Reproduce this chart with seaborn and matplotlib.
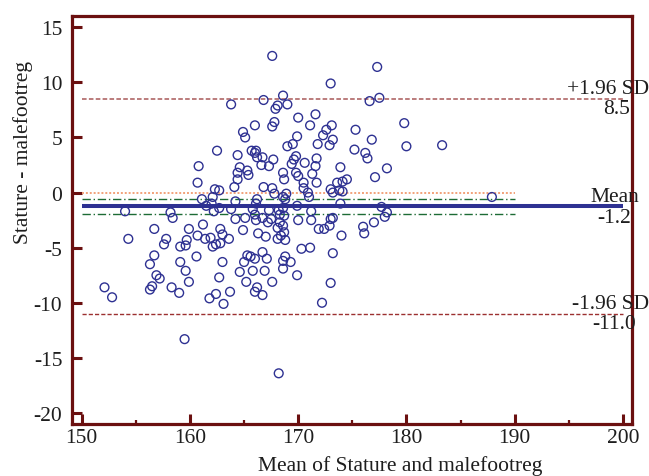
import matplotlib
matplotlib.use('Agg')
import matplotlib.pyplot as plt
from matplotlib.ticker import MultipleLocator
import seaborn as sns

# Bland-Altman: mean of the two methods (x) and their difference (y)
mean_of_pair = [
    167.6, 173.0, 166.8, 168.6, 163.8, 168.1, 167.9, 169.0, 170.0, 171.6, 166.0, 167.6, 167.8, 171.1, 173.1,
    172.6, 172.3, 173.2, 172.9, 171.8, 164.9, 165.1, 169.9, 169.0, 169.5, 162.5, 164.4, 165.7, 166.1, 166.0,
    166.2, 167.7, 169.8, 169.6, 171.7, 160.8, 164.6, 166.6, 167.3, 169.4, 170.6, 171.6, 173.9,
    164.4, 165.3, 165.4, 168.6, 169.8, 170.0, 171.3, 174.5, 174.1, 173.6, 164.4, 160.7, 168.7, 170.5, 171.7,
    162.3, 162.7, 164.1, 166.8, 167.6, 167.8, 168.9, 168.6, 170.5, 170.9, 173.0, 173.2, 174.1, 171.0,
    161.1, 162.1, 164.2, 166.2, 166.1, 168.8, 162.0, 162.7, 162.2, 163.8, 165.8, 167.3, 168.2, 168.6, 171.2, 173.9,
    158.2, 158.4, 164.2, 165.1, 166.0, 166.1, 166.7, 167.2, 167.5, 168.3, 168.7, 168.3, 170.0, 171.2, 173.0, 173.2, 172.9, 171.9, 172.4,
    156.7, 159.9, 161.2, 162.8, 163.0, 164.9, 166.3, 167.0, 168.1, 168.6, 168.7, 168.1, 168.8, 168.4,
    160.7, 161.4, 161.9, 162.4, 162.1, 162.8, 163.6, 157.8, 157.6, 159.1, 159.7, 159.6, 174.0, 171.1, 170.3, 166.7,
    156.7, 159.1, 160.6, 163.0, 165.3, 165.6, 166.0, 165.0, 167.1, 168.8, 168.6, 169.3, 168.6, 164.6, 165.8, 166.9, 169.9, 173.2,
    156.9, 157.2, 159.6, 159.9, 162.7, 165.2, 167.6, 156.5, 156.3, 158.3, 159.0, 161.8, 162.4, 163.7, 166.0, 166.2, 166.7, 163.1, 172.2, 173.0,
    154.0, 154.3, 156.3, 152.1, 152.8, 159.5, 168.2,
    177.3, 177.5, 176.6, 175.3, 179.8, 176.8, 180.0, 183.3, 175.2, 176.2, 176.4, 178.2, 177.1, 187.9,
    177.7, 178.2, 178.0, 177.0, 176.0, 176.1,
    169.9, 161.5, 166.7, 173.8,
]
difference = [
    12.4, 9.9, 8.4, 8.8, 8.0, 7.9, 7.6, 8.0, 6.8, 7.1, 6.1, 6.0, 6.4, 6.1, 6.1,
    5.7, 5.2, 4.8, 4.3, 4.4, 5.5, 5.0, 5.1, 4.2, 4.4, 3.8, 3.4, 3.8, 3.8, 3.6,
    3.2, 3.0, 3.3, 3.0, 3.1, 2.4, 2.3, 2.5, 2.4, 2.6, 2.7, 2.4, 2.3,
    1.8, 2.0, 1.6, 1.8, 1.8, 1.5, 1.7, 1.2, 1.0, 0.9, 1.2, 0.9, 1.2, 0.9, 0.9,
    0.3, 0.2, 0.5, 0.5, 0.4, -0.1, -0.1, -0.4, 0.4, 0.0, 0.3, 0.0, 0.1, -0.4,
    -0.6, -0.4, -0.8, -0.6, -1.0, -0.6, -1.0, -1.4, -1.7, -1.5, -1.5, -1.6, -1.6, -1.4, -1.7, -1.0,
    -1.8, -2.3, -2.4, -2.3, -2.0, -2.5, -2.3, -2.7, -2.4, -2.0, -2.1, -2.7, -2.5, -2.5, -2.4, -2.3, -3.0, -3.3, -3.3,
    -3.3, -3.3, -2.9, -3.3, -3.8, -3.4, -3.7, -4.0, -3.2, -3.0, -3.6, -4.2, -4.3, -3.9,
    -3.9, -4.2, -4.1, -4.7, -4.9, -4.6, -4.2, -4.2, -4.7, -4.9, -4.3, -4.8, -3.9, -5.0, -5.1, -5.4,
    -5.7, -6.3, -5.8, -6.3, -5.7, -5.8, -6.0, -6.3, -6.0, -5.8, -6.2, -6.3, -6.9, -7.2, -7.1, -7.1, -7.5, -5.5,
    -7.5, -7.8, -7.1, -8.1, -7.7, -8.1, -8.1, -8.5, -8.8, -8.6, -9.1, -9.6, -9.2, -9.0, -9.0, -8.6, -9.3, -10.1, -10.0, -8.2,
    -1.7, -4.2, -6.5, -8.6, -9.5, -13.3, -16.4,
    11.4, 8.6, 8.3, 5.7, 6.3, 4.8, 4.2, 4.3, 3.9, 3.6, 3.1, 2.2, 1.4, -0.4,
    -1.3, -1.8, -2.2, -2.7, -3.1, -3.7,
    -1.2, -1.2, 3.2, 0.2,
]

# summary lines as printed on the chart
mean_diff = -1.24
mean_ci = [-0.6, -1.93]
upper_loa = 8.5
lower_loa = -11.0
equality = 0.0
range_start, range_end, ci_end = 150, 200, 190


def main():
    sns.set_style('ticks')
    plt.rcParams['font.family'] = ['Liberation Serif', 'DejaVu Serif']
    plt.rcParams['axes.unicode_minus'] = False

    frame = '#6b1010'
    navy = '#2e3192'
    ink = '#1e1e1e'

    fig = plt.figure(figsize=(6.49, 4.77), dpi=100)
    ax = fig.add_axes([0.111, 0.109, 0.863, 0.856])

    sns.scatterplot(x=mean_of_pair, y=difference, ax=ax, marker='o', s=40,
                    facecolor='none', edgecolor=navy, linewidth=1.0, legend=False, zorder=3)
    ax.collections[-1].set_facecolor('none')

    # reference lines
    ax.hlines(equality, range_start, ci_end, colors='#f2a27a', linestyles=(0, (1, 1)), linewidth=1.4)
    for c in mean_ci:
        ax.hlines(c, range_start, ci_end, colors='#1d6b35', linestyles=(0, (6, 2, 1, 2)), linewidth=1.0)
    ax.hlines(mean_diff, range_start, range_end, colors=navy, linewidth=2.9, zorder=4)
    ax.hlines(upper_loa, range_start, range_end, colors='#a85858', linestyles=(0, (3, 1.5)), linewidth=1.1)
    ax.hlines(lower_loa, range_start, range_end, colors='#9c3030', linestyles=(0, (3, 1.5)), linewidth=1.0)

    fs = 15.5
    ax.text(202.4, upper_loa + 0.58, '+1.96 SD', ha='right', va='baseline', fontsize=fs, color=ink, clip_on=False)
    ax.text(200.7, upper_loa - 0.05, f'{upper_loa:.1f}', ha='right', va='top', fontsize=fs, color=ink, clip_on=False)
    ax.text(201.5, mean_diff + 0.5, 'Mean', ha='right', va='baseline', fontsize=fs, color=ink, clip_on=False)
    ax.text(200.8, mean_diff - 0.15, f'{mean_diff:.1f}', ha='right', va='top', fontsize=fs, color=ink, clip_on=False)
    ax.text(202.4, lower_loa + 0.53, '-1.96 SD', ha='right', va='baseline', fontsize=fs, color=ink, clip_on=False)
    ax.text(201.2, lower_loa - 0.05, f'{lower_loa:.1f}', ha='right', va='top', fontsize=fs, color=ink, clip_on=False)

    ax.set_xlim(149.1, 200.86)
    ax.set_ylim(-21.0, 16.05)
    ax.set_xticks(range(150, 201, 10))
    ax.xaxis.set_minor_locator(MultipleLocator(5))
    ax.set_yticks(range(-20, 16, 5))

    for side in ['left', 'right', 'top', 'bottom']:
        ax.spines[side].set_color(frame)
        ax.spines[side].set_linewidth(2.3)
    ax.tick_params(axis='both', which='major', direction='in', length=7, width=2.2,
                   color=frame, labelsize=fs, labelcolor=ink)
    ax.tick_params(axis='x', which='major', pad=3)
    ax.tick_params(axis='y', which='major', pad=7)
    ax.tick_params(axis='x', which='minor', direction='in', length=3, width=1.6, color=frame)

    ax.set_xlabel('Mean of Stature and malefootreg', fontsize=fs, color=ink)
    ax.set_ylabel('Stature - malefootreg', fontsize=fs, color=ink)
    ax.xaxis.set_label_coords(0.586, -0.076)
    ax.yaxis.set_label_coords(-0.069, 0.668)

    fig.savefig('out.png', dpi=100)
    plt.close(fig)


if __name__ == '__main__':
    main()
